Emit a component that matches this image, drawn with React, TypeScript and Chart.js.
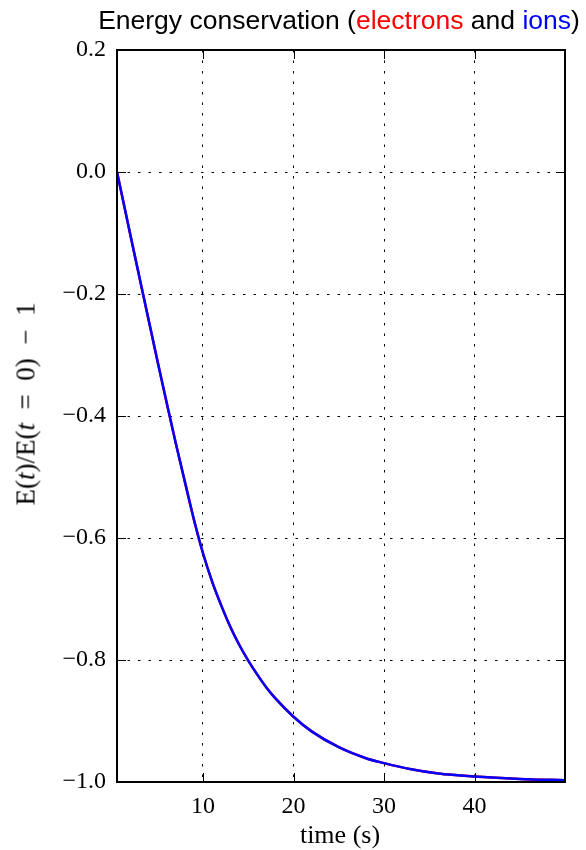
import { useEffect, useRef } from 'react';
import { Chart, registerables } from 'chart.js';

Chart.register(...registerables);

// time (s)
const TIME = [0.5, 1, 2, 3, 4, 5, 6, 7, 8, 9, 10, 11, 12, 13, 14, 15, 16, 17, 18, 20, 22, 25, 28, 30, 33, 36, 40, 45, 49.99];
// E(t)/E(t=0) - 1
const ELECTRONS = [0, -0.035, -0.105, -0.174, -0.243, -0.312, -0.379, -0.445, -0.508, -0.570, -0.625, -0.671, -0.710, -0.745, -0.775, -0.801, -0.824, -0.845, -0.863, -0.893, -0.917, -0.943, -0.961, -0.969, -0.979, -0.986, -0.991, -0.995, -0.997];
const IONS = [0, -0.035, -0.105, -0.174, -0.243, -0.312, -0.379, -0.445, -0.508, -0.570, -0.625, -0.671, -0.710, -0.745, -0.775, -0.801, -0.824, -0.845, -0.863, -0.893, -0.917, -0.943, -0.961, -0.969, -0.979, -0.986, -0.991, -0.995, -0.997];

const X_TICKS = [10, 20, 30, 40];
const X_MIN = 0.5;
const X_MAX = 49.99;
const Y_MIN = -1.0;
const Y_MAX = 0.2;
const Y_STEP = 0.2;

const SERIF = '"Liberation Serif", "Times New Roman", serif';
const SANS = '"Liberation Sans", Arial, sans-serif';

const fmtY = (v: number) => {
  const n = Math.abs(v) < 1e-9 ? 0 : v;
  const s = n.toFixed(1);
  return n < 0 ? '\u2212' + s.slice(1) : s;
};

const framePlugin = {
  id: 'frameTicks',
  afterDraw(chart: any) {
    const { ctx, chartArea } = chart;
    const { left, right, top, bottom } = chartArea;
    const xs = chart.scales.x;
    const ys = chart.scales.y;
    const L = 9;
    ctx.save();
    ctx.strokeStyle = '#000';
    ctx.lineWidth = 1;
    ctx.setLineDash([]);
    ctx.beginPath();
    xs.ticks.forEach((t: any) => {
      const px = Math.round(xs.getPixelForValue(t.value)) + 0.5;
      ctx.moveTo(px, bottom);
      ctx.lineTo(px, bottom - L);
      ctx.moveTo(px, top);
      ctx.lineTo(px, top + L);
    });
    ys.ticks.forEach((t: any) => {
      const py = Math.round(ys.getPixelForValue(t.value)) + 0.5;
      ctx.moveTo(left, py);
      ctx.lineTo(left + L, py);
      ctx.moveTo(right, py);
      ctx.lineTo(right - L, py);
    });
    ctx.stroke();
    ctx.lineWidth = 2;
    ctx.strokeRect(left, top, right - left, bottom - top);
    ctx.restore();
  },
};

export default function App() {
  const ref = useRef<HTMLCanvasElement | null>(null);

  useEffect(() => {
    if (!ref.current) return;
    const chart = new Chart(ref.current, {
      type: 'line',
      data: {
        datasets: [
          {
            label: 'electrons',
            data: TIME.map((t, i) => ({ x: t, y: ELECTRONS[i] })),
            borderColor: '#ff0000',
            borderWidth: 2.5,
            pointRadius: 0,
            fill: false,
            cubicInterpolationMode: 'monotone',
            order: 1,
          },
          {
            label: 'ions',
            data: TIME.map((t, i) => ({ x: t, y: IONS[i] })),
            borderColor: '#0000ff',
            borderWidth: 2.5,
            pointRadius: 0,
            fill: false,
            cubicInterpolationMode: 'monotone',
            order: 0,
          },
        ],
      },
      options: {
        responsive: false,
        animation: false,
        devicePixelRatio: 1,
        layout: { padding: { top: 50, right: 21, left: 0, bottom: 0 } },
        plugins: {
          legend: { display: false },
          tooltip: { enabled: false },
          title: { display: false },
        },
        scales: {
          x: {
            type: 'linear',
            min: X_MIN,
            max: X_MAX,
            afterFit: (s: any) => {
              s.height = 68;
            },
            afterBuildTicks: (s: any) => {
              s.ticks = X_TICKS.map((v) => ({ value: v }));
            },
            ticks: {
              autoSkip: false,
              maxRotation: 0,
              padding: 10,
              color: '#000',
              font: { family: SERIF, size: 24 },
              callback: (v: any) => String(v),
            },
            grid: { color: '#000', lineWidth: 1, drawTicks: false },
            border: { display: false, dash: [2.5, 8] },
          },
          y: {
            type: 'linear',
            min: Y_MIN,
            max: Y_MAX,
            afterFit: (s: any) => {
              s.width = 117;
            },
            ticks: {
              stepSize: Y_STEP,
              padding: 11,
              color: '#000',
              font: { family: SERIF, size: 24 },
              callback: (v: any) => fmtY(Number(v)),
            },
            grid: { color: '#000', lineWidth: 1, drawTicks: false },
            border: { display: false, dash: [2.5, 8] },
          },
        },
      },
      plugins: [framePlugin],
    } as any);
    return () => chart.destroy();
  }, []);

  return (
    <div style={{ position: 'absolute', left: 0, top: 0, width: 586, height: 850, background: '#fff' }}>
      <canvas ref={ref} width={586} height={850} style={{ display: 'block' }} />
      <div
        style={{
          position: 'absolute',
          left: 339,
          top: 7,
          transform: 'translateX(-50%)',
          whiteSpace: 'nowrap',
          fontFamily: SANS,
          fontSize: 26.5,
          lineHeight: '26px',
          color: '#000',
        }}
      >
        Energy conservation (<span style={{ color: '#ff0000' }}>electrons</span> and{' '}
        <span style={{ color: '#0000ff' }}>ions</span>)
      </div>
      <div
        style={{
          position: 'absolute',
          left: 340,
          top: 823,
          transform: 'translateX(-50%)',
          whiteSpace: 'nowrap',
          fontFamily: SERIF,
          fontSize: 26,
          lineHeight: '24px',
          color: '#000',
        }}
      >
        time (s)
      </div>
      <div
        style={{
          position: 'absolute',
          left: 26,
          top: 404,
          transform: 'translate(-50%, -50%) rotate(-90deg)',
          whiteSpace: 'nowrap',
          fontFamily: SERIF,
          fontSize: 27,
          lineHeight: '27px',
          color: '#000',
        }}
      >
        E(<i>t</i>)/E(<i>t</i>{'\u2002=\u2002'}0){'\u2002\u2212\u2002'}1
      </div>
    </div>
  );
}
